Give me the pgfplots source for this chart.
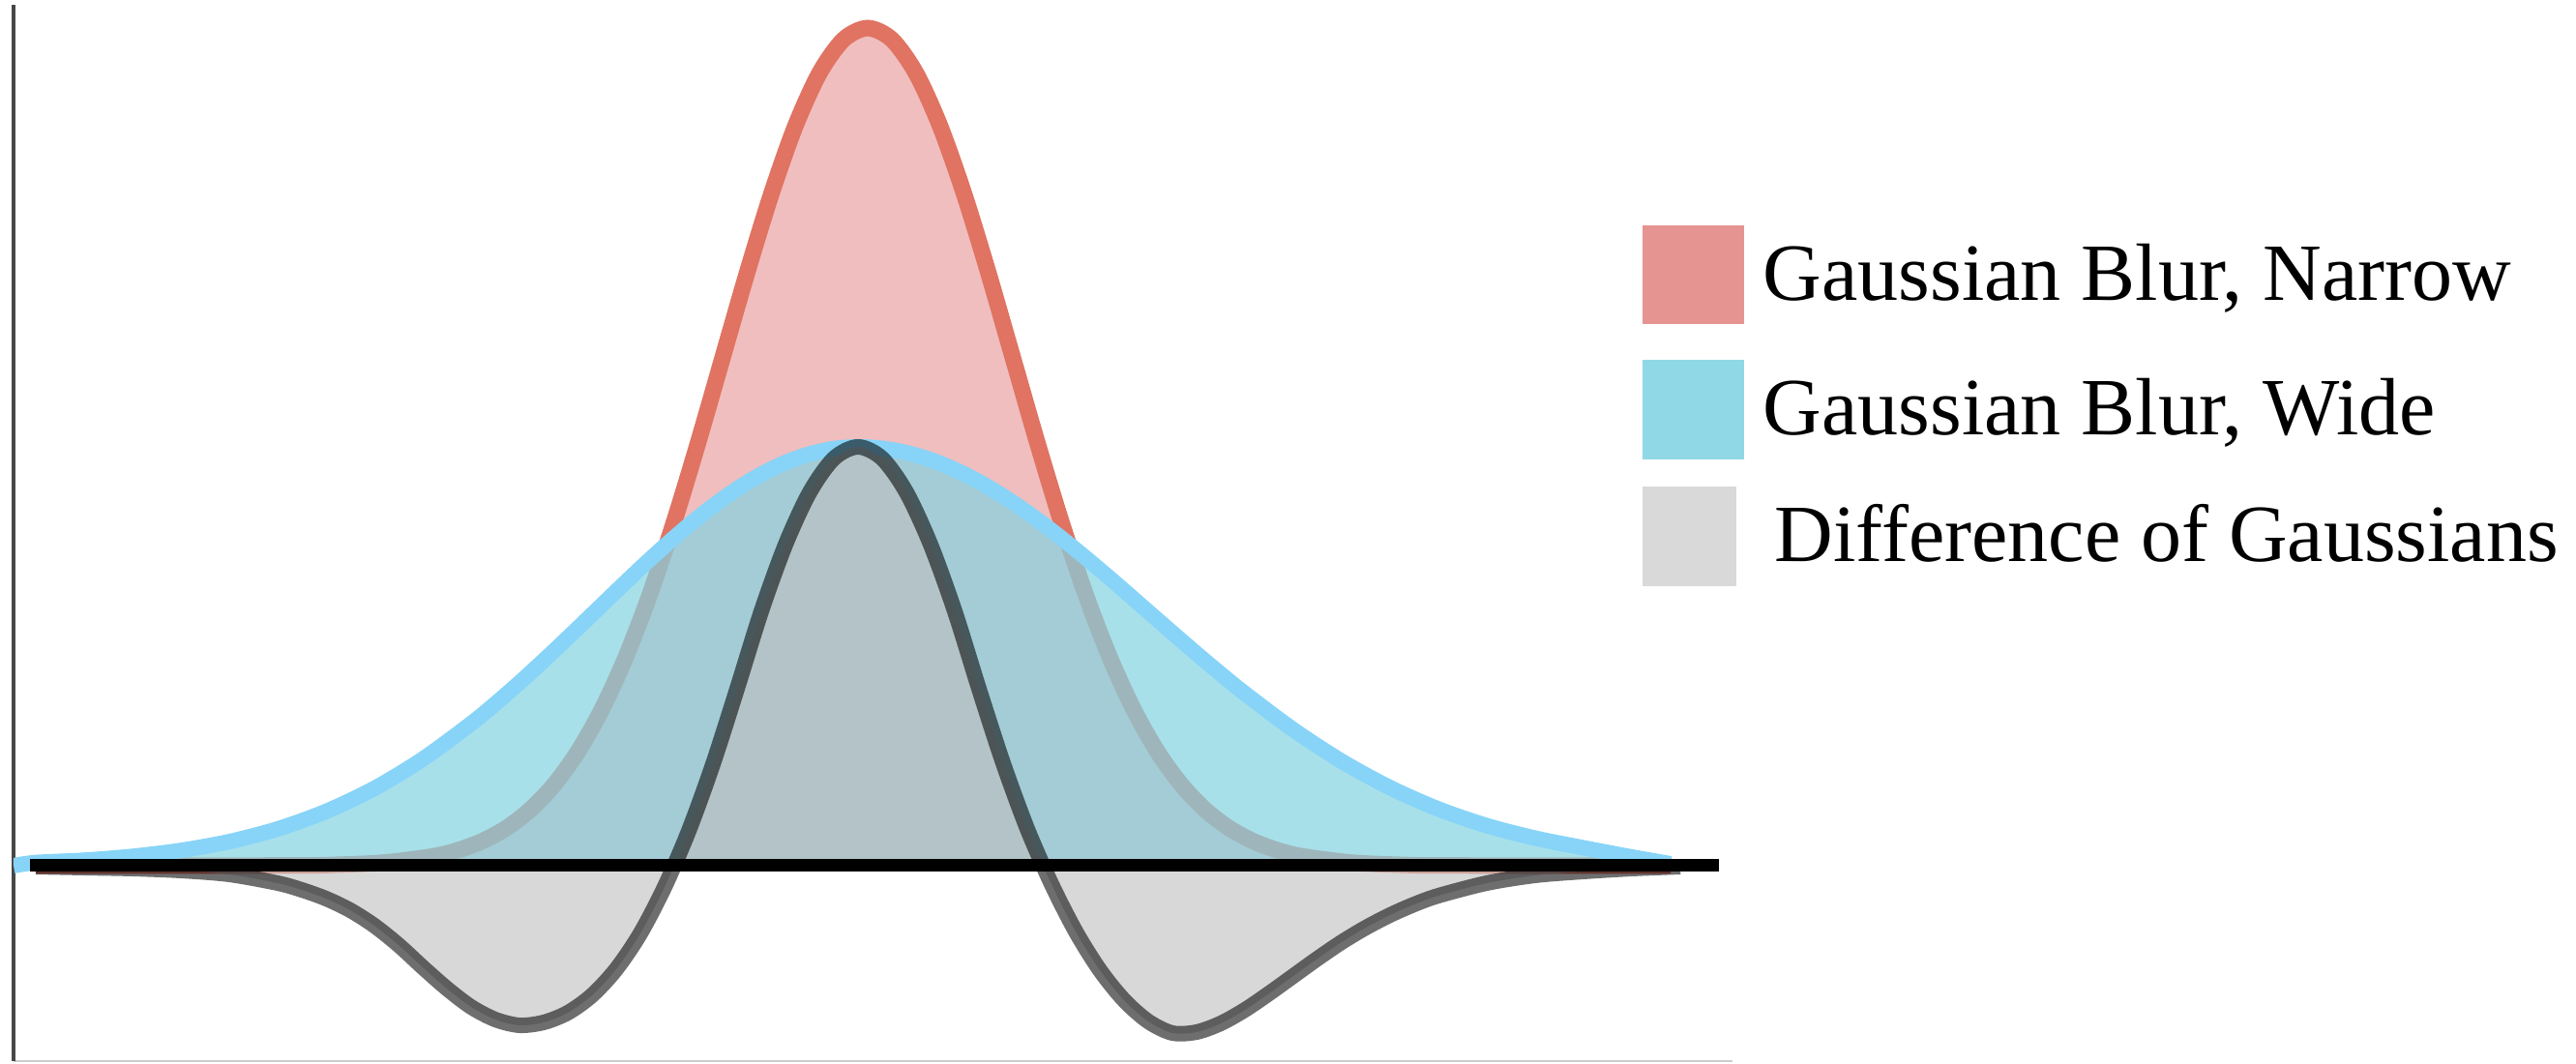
\documentclass[border=0pt]{standalone}
\usepackage{fontspec}
\setmainfont{Liberation Serif}
\usepackage{pgfplots}
\pgfplotsset{compat=1.18}
\usepackage{pgfplotstable}

% curve colours
\definecolor{narrowline}{RGB}{224,115,98}
\definecolor{narrowfill}{RGB}{240,190,190}
\definecolor{wideline}{RGB}{135,212,248}
\definecolor{widefill}{RGB}{131,211,225}
\definecolor{dogfill}{RGB}{190,190,190}
% key swatches
\definecolor{keynarrow}{RGB}{230,148,145}
\definecolor{keywide}{RGB}{145,216,230}
\definecolor{keydog}{RGB}{217,217,217}

% narrow blur profile
\pgfplotstableread{
x      y
-8.60  0.000
-6.00  0.003
-5.50  0.010
-5.00  0.033
-4.50  0.096
-4.25  0.156
-4.00  0.247
-3.75  0.380
-3.50  0.569
-3.25  0.828
-3.00  1.172
-2.75  1.613
-2.50  2.159
-2.25  2.811
-2.00  3.560
-1.75  4.385
-1.50  5.253
-1.25  6.120
-1.00  6.934
-0.75  7.642
-0.50  8.192
-0.25  8.541
0.00   8.660
0.25   8.541
0.50   8.192
0.75   7.642
1.00   6.934
1.25   6.120
1.50   5.253
1.75   4.385
2.00   3.560
2.25   2.811
2.50   2.159
2.75   1.613
3.00   1.172
3.25   0.828
3.50   0.569
3.75   0.380
4.00   0.247
4.25   0.156
4.50   0.096
5.00   0.033
5.50   0.010
6.00   0.003
8.30   0.000
}\narrow

% wide blur profile
\pgfplotstableread{
x      y
-8.83  0.000
-8.60  0.033
-8.10  0.057
-7.60  0.097
-7.10  0.158
-6.60  0.249
-6.10  0.380
-5.60  0.561
-5.10  0.799
-4.60  1.102
-4.10  1.469
-3.85  1.674
-3.60  1.892
-3.35  2.121
-3.10  2.357
-2.85  2.597
-2.60  2.838
-2.35  3.076
-2.10  3.304
-1.85  3.520
-1.60  3.719
-1.35  3.896
-1.10  4.047
-0.85  4.168
-0.60  4.257
-0.35  4.312
-0.10  4.330
0.15   4.315
0.40   4.270
0.65   4.197
0.90   4.096
1.15   3.970
1.40   3.821
1.65   3.653
1.90   3.467
2.15   3.268
2.40   3.060
2.65   2.845
2.90   2.626
3.15   2.408
3.40   2.192
3.65   1.982
3.90   1.780
4.40   1.406
4.90   1.080
5.40   0.807
5.90   0.586
6.40   0.414
6.90   0.285
7.40   0.185
7.90   0.090
8.30   0.020
}\wide

% difference of Gaussians profile
\pgfplotstableread{
x      y
-8.60  -0.01
-8.10  -0.02
-7.60  -0.03
-7.10  -0.05
-6.60  -0.09
-6.10  -0.18
-5.85  -0.25
-5.60  -0.34
-5.35  -0.46
-5.10  -0.62
-4.85  -0.82
-4.60  -1.05
-4.35  -1.27
-4.10  -1.46
-3.85  -1.59
-3.60  -1.65
-3.35  -1.62
-3.10  -1.52
-2.85  -1.34
-2.60  -1.07
-2.35  -0.70
-2.10  -0.22
-1.85  0.36
-1.60  1.05
-1.35  1.83
-1.10  2.63
-0.85  3.32
-0.60  3.86
-0.35  4.21
-0.10  4.33
0.15   4.21
0.40   3.86
0.65   3.32
0.90   2.63
1.15   1.83
1.40   1.06
1.65   0.38
1.90   -0.19
2.15   -0.68
2.40   -1.08
2.65   -1.39
2.90   -1.61
3.15   -1.73
3.40   -1.72
3.65   -1.63
3.90   -1.49
4.15   -1.32
4.40   -1.14
4.65   -0.96
4.90   -0.79
5.15   -0.64
5.40   -0.51
5.65   -0.40
5.90   -0.31
6.40   -0.18
6.90   -0.10
7.40   -0.06
7.90   -0.03
8.40   -0.01
}\dog

\begin{document}
\begin{tikzpicture}
\path[use as bounding box] (0mm,0mm) rectangle (266.3mm,109.9mm);
\begin{axis}[
  at={(1.4mm,0.2mm)}, anchor=south west,
  scale only axis, width=177.7mm, height=109.2mm,
  xmin=-8.83, xmax=8.94, ymin=-2.02, ymax=8.90,
  axis x line=bottom, axis y line=left,
  ticks=none,
  x axis line style={-, draw=black!20, line width=0.2mm},
  y axis line style={-, draw=black!72, line width=0.35mm},
]
% narrow blur
\addplot[draw=none, fill=narrowfill, smooth] table {\narrow} \closedcycle;
\addplot[narrowline, line width=1.7mm, smooth] table {\narrow};
% wide blur
\addplot[draw=none, fill=widefill, fill opacity=0.7, smooth] table {\wide} \closedcycle;
\addplot[wideline, line width=1.6mm, smooth, line join=round] table {\wide};
% difference of Gaussians
\addplot[draw=none, fill=dogfill, fill opacity=0.6, smooth] table {\dog} \closedcycle;
\addplot[black, draw opacity=0.57, line width=1.6mm, smooth] table {\dog};
% zero line
\addplot[black, line width=1.3mm] coordinates {(-8.66,0) (8.80,0)};
\end{axis}

% key
\begin{scope}[every node/.style={anchor=base west, inner sep=0pt, font=\fontsize{23.9pt}{28pt}\selectfont}]
\fill[keynarrow] (169.8mm,76.4mm) rectangle (180.3mm,86.6mm);
\node at (182.2mm,78.8mm) {Gaussian Blur, Narrow};
\fill[keywide] (169.8mm,62.4mm) rectangle (180.3mm,72.7mm);
\node at (182.2mm,64.9mm) {Gaussian Blur, Wide};
\fill[keydog] (169.8mm,49.3mm) rectangle (179.5mm,59.6mm);
\node at (183.4mm,51.8mm) {Difference of Gaussians};
\end{scope}
\end{tikzpicture}
\end{document}
